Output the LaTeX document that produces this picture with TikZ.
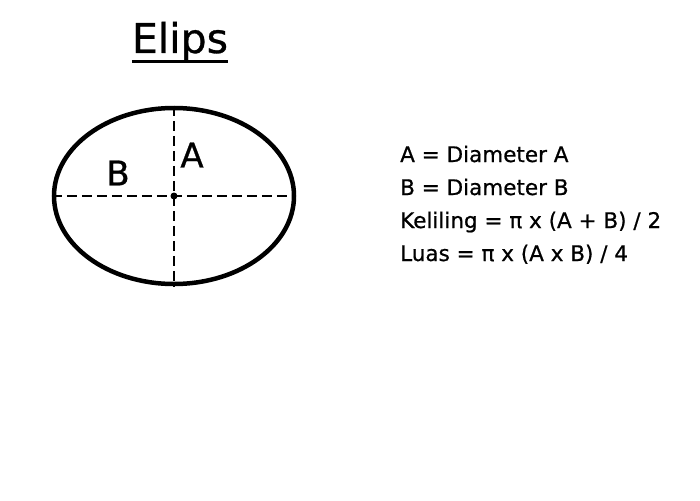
\documentclass[tikz,border=0pt]{standalone}
\usepackage{fontspec}
\setmainfont{DejaVu Sans}
\newfontfamily\tebal[FakeBold=0.7]{DejaVu Sans}
\usetikzlibrary{shapes.geometric, positioning}

\begin{document}
\begin{tikzpicture}[x=1pt, y=-1pt, >=stealth,
    sumbu/.style={dash pattern=on 10pt off 5pt, line width=2pt},
    huruf/.style={inner sep=0pt, font=\tebal\fontsize{34}{36}\selectfont},
    rumus/.style={anchor=base west, inner sep=0pt, font=\tebal\fontsize{21.5}{24}\selectfont}]
        \useasboundingbox (0,0) rectangle (700,500);
        \node [inner sep=0pt, anchor=base, font=\tebal\fontsize{41}{44}\selectfont] (judul) at (180,53) {Elips};
        \draw [line width=3pt] (judul.south west) -- (judul.south east);

        \node [ellipse, draw, line width=4.5pt, inner sep=0pt, minimum width=240pt, minimum height=176pt] (elips) at (174,196) {};
        \draw [sumbu] (elips.west) -- (elips.east);
        \draw [sumbu] (elips.north) -- (elips.south);
        \node [circle, fill, inner sep=0pt, minimum size=7pt] (pusat) at (elips.center) {};
        \node [huruf] (hurufB) at (118,173) {B};
        \node [huruf] (hurufA) at (192,155) {A};

        \node [rumus] (rumusA) at (400,162) {A = Diameter A};
        \node [rumus, below=33pt of rumusA.base west, anchor=base west] (rumusB) {B = Diameter B};
        \node [rumus, below=33pt of rumusB.base west, anchor=base west] (keliling) {Keliling = π x (A + B) / 2};
        \node [rumus, below=33pt of keliling.base west, anchor=base west] (luas) {Luas = π x (A x B) / 4};
    \end{tikzpicture}
\end{document}
